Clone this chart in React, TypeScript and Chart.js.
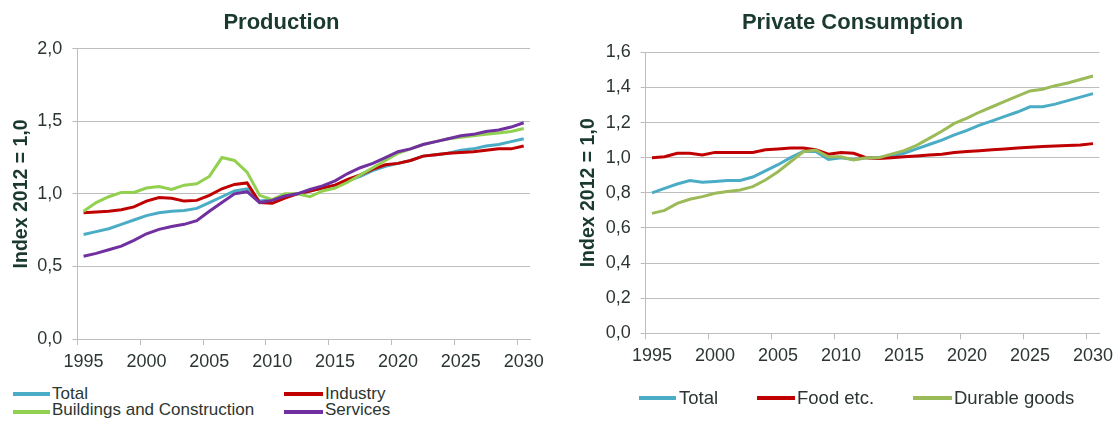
import React, { useEffect, useRef } from 'react';
import { Chart, registerables } from 'chart.js';

Chart.register(...registerables);

// ---------- data ----------
const years = [
  '1995', '1996', '1997', '1998', '1999', '2000', '2001', '2002', '2003', '2004',
  '2005', '2006', '2007', '2008', '2009', '2010', '2011', '2012', '2013', '2014',
  '2015', '2016', '2017', '2018', '2019', '2020', '2021', '2022', '2023', '2024',
  '2025', '2026', '2027', '2028', '2029', '2030',
];
const xTickYears = ['1995', '2000', '2005', '2010', '2015', '2020', '2025', '2030'];

// Production
const prodTotal = [
  0.72, 0.74, 0.76, 0.79, 0.82, 0.85, 0.87, 0.88, 0.885, 0.9,
  0.94, 0.98, 1.02, 1.035, 0.95, 0.96, 0.985, 1.0, 1.02, 1.04,
  1.06, 1.09, 1.12, 1.16, 1.19, 1.21, 1.23, 1.26, 1.27, 1.28,
  1.3, 1.31, 1.33, 1.34, 1.36, 1.38,
];
const prodIndustry = [
  0.87, 0.875, 0.88, 0.89, 0.91, 0.95, 0.975, 0.97, 0.95, 0.955,
  0.99, 1.035, 1.065, 1.075, 0.94, 0.935, 0.97, 1.0, 1.02, 1.04,
  1.06, 1.1, 1.13, 1.17, 1.2, 1.21, 1.23, 1.26, 1.27, 1.28,
  1.285, 1.29, 1.3, 1.31, 1.31, 1.33,
];
const prodBuildings = [
  0.88, 0.94, 0.98, 1.01, 1.01, 1.04, 1.05, 1.03, 1.06, 1.07,
  1.12, 1.25, 1.23, 1.15, 0.99, 0.96, 1.0, 1.0, 0.98, 1.02,
  1.04, 1.08, 1.13, 1.18, 1.23, 1.28, 1.31, 1.34, 1.36, 1.38,
  1.39, 1.4, 1.41, 1.42, 1.43, 1.45,
];
const prodServices = [
  0.57, 0.59, 0.615, 0.64, 0.68, 0.725, 0.755, 0.775, 0.79, 0.815,
  0.88, 0.94, 1.0, 1.015, 0.94, 0.955, 0.985, 1.0, 1.03, 1.055,
  1.09, 1.14, 1.18, 1.21, 1.25, 1.29, 1.31, 1.34, 1.36, 1.38,
  1.4, 1.41, 1.43, 1.44, 1.46, 1.49,
];

// Private consumption
const consTotal = [
  0.8, 0.825, 0.85, 0.87, 0.86, 0.865, 0.87, 0.87, 0.89, 0.925,
  0.96, 1.0, 1.035, 1.035, 0.99, 1.0, 0.99, 1.0, 1.0, 1.01,
  1.025, 1.05, 1.075, 1.1, 1.13, 1.155, 1.185, 1.21, 1.235, 1.26,
  1.29, 1.29, 1.305, 1.325, 1.345, 1.365,
];
const consFood = [
  1.0, 1.005, 1.025, 1.025, 1.015, 1.03, 1.03, 1.03, 1.03, 1.045,
  1.05, 1.055, 1.055, 1.045, 1.02, 1.03, 1.025, 1.0, 0.995, 1.0,
  1.005, 1.01, 1.015, 1.02, 1.03, 1.035, 1.04, 1.045, 1.05, 1.055,
  1.06, 1.063, 1.066, 1.07, 1.072, 1.08,
];
const consDurable = [
  0.683, 0.7, 0.74, 0.763, 0.778, 0.797, 0.807, 0.816, 0.835, 0.873,
  0.92, 0.977, 1.034, 1.044, 1.005, 1.005, 0.987, 1.0, 1.0, 1.02,
  1.04, 1.07, 1.11, 1.15, 1.195, 1.225, 1.26, 1.29, 1.32, 1.35,
  1.38, 1.39, 1.41, 1.425, 1.445, 1.465,
];

const prodSeriesNames = ['Total', 'Industry', 'Buildings and Construction', 'Services'];
const consSeriesNames = ['Total', 'Food etc.', 'Durable goods'];

// ---------- styling ----------
const FONT = "'Liberation Sans', Arial, sans-serif";
const TEXT = '#2c3631';
const TITLE = '#1b3a2f';
const GRID = '#bdbdbd';
const BLUE = '#4bacc6';
const RED = '#c00000';
const GREEN = '#92d050';
const PURPLE = '#7030a0';
const OLIVE = '#9bbb59';

type Geo = {
  title: string;
  yMax: number;
  yStep: number;
  yAxisW: number;
  rightW: number;
  xAxisH: number;
  titlePadBottom: number;
  yTitlePad: number;
};

function fmt(v: number) {
  return Number(v).toFixed(1).replace('.', ',');
}

function makeOptions(g: Geo): any {
  return {
    responsive: false,
    animation: false,
    devicePixelRatio: 1,
    layout: { padding: 0 },
    plugins: {
      legend: { display: false },
      tooltip: { enabled: false },
      title: {
        display: true,
        text: g.title,
        color: TITLE,
        font: { family: FONT, size: 22, weight: 'bold' },
        padding: { top: 10, bottom: g.titlePadBottom },
      },
    },
    scales: {
      x: {
        type: 'category',
        offset: true,
        grid: {
          display: true,
          drawOnChartArea: false,
          drawTicks: true,
          tickLength: 6,
          offset: true,
          color: GRID,
          tickColor: (ctx: any) =>
            ctx.index !== undefined && xTickYears.includes(years[ctx.index]) ? GRID : 'rgba(0,0,0,0)',
        },
        border: { display: true, color: GRID, width: 1 },
        ticks: {
          autoSkip: false,
          maxRotation: 0,
          minRotation: 0,
          padding: 6,
          color: TEXT,
          font: { family: FONT, size: 18 },
          callback: (_v: any, i: number) => (xTickYears.includes(years[i]) ? years[i] : ''),
        },
        afterFit: (s: any) => {
          s.height = g.xAxisH;
        },
      },
      y: {
        type: 'linear',
        min: 0,
        max: g.yMax,
        grid: { color: GRID, lineWidth: 1, tickLength: 5, drawTicks: true },
        border: { display: true, color: GRID, width: 1 },
        ticks: {
          stepSize: g.yStep,
          padding: 10,
          color: TEXT,
          font: { family: FONT, size: 18 },
          callback: (v: any) => fmt(v),
        },
        title: {
          display: true,
          text: 'Index 2012 = 1,0',
          color: TITLE,
          font: { family: FONT, size: 19.5, weight: 'bold' },
          padding: { top: g.yTitlePad, bottom: 0 },
        },
        afterFit: (s: any) => {
          s.width = g.yAxisW;
        },
      },
      y2: {
        type: 'linear',
        position: 'right',
        display: true,
        grid: { display: false },
        border: { display: false },
        ticks: { display: false },
        afterFit: (s: any) => {
          s.width = g.rightW;
        },
      },
    },
  };
}

function line(label: string, data: number[], color: string, order: number) {
  return {
    label,
    data,
    borderColor: color,
    backgroundColor: color,
    borderWidth: 3,
    pointRadius: 0,
    pointHoverRadius: 0,
    tension: 0,
    fill: false,
    order,
    yAxisID: 'y',
  };
}

function ChartCanvas({ config, left, width, height }: { config: any; left: number; width: number; height: number }) {
  const ref = useRef<HTMLCanvasElement | null>(null);
  useEffect(() => {
    if (!ref.current) return;
    const chart = new Chart(ref.current, config);
    return () => chart.destroy();
  }, []);
  return (
    <canvas
      ref={ref}
      width={width}
      height={height}
      style={{ position: 'absolute', left, top: 0, width, height }}
    />
  );
}

type LegendPos = { lx: number; lw: number; ly: number; tx: number; ty: number };

function Legend({ names, colors, pos, fontSize }: { names: string[]; colors: string[]; pos: LegendPos[]; fontSize: number }) {
  return (
    <>
      {names.map((n, i) => (
        <React.Fragment key={n}>
          <div
            style={{
              position: 'absolute',
              left: pos[i].lx,
              top: pos[i].ly - 2,
              width: pos[i].lw,
              height: 4,
              background: colors[i],
            }}
          />
          <div
            style={{
              position: 'absolute',
              left: pos[i].tx,
              top: pos[i].ty - 10,
              height: 20,
              lineHeight: '20px',
              fontSize,
              fontFamily: FONT,
              color: TEXT,
              whiteSpace: 'nowrap',
            }}
          >
            {n}
          </div>
        </React.Fragment>
      ))}
    </>
  );
}

const leftLegendPos: LegendPos[] = [
  { lx: 13, lw: 37, ly: 393.5, tx: 52, ty: 394 },
  { lx: 284, lw: 39, ly: 393.5, tx: 325, ty: 394 },
  { lx: 13, lw: 37, ly: 411.5, tx: 52, ty: 410 },
  { lx: 284, lw: 39, ly: 411.5, tx: 325, ty: 410 },
];
const rightLegendPos: LegendPos[] = [
  { lx: 639, lw: 37, ly: 398, tx: 679, ty: 398 },
  { lx: 757, lw: 38, ly: 398, tx: 797, ty: 398 },
  { lx: 913, lw: 39, ly: 398, tx: 954, ty: 398 },
];

export default function App() {
  const prodConfig = {
    type: 'line',
    data: {
      labels: years,
      datasets: [
        line(prodSeriesNames[0], prodTotal, BLUE, 3),
        line(prodSeriesNames[1], prodIndustry, RED, 2),
        line(prodSeriesNames[2], prodBuildings, GREEN, 1),
        line(prodSeriesNames[3], prodServices, PURPLE, 0),
      ],
    },
    options: makeOptions({
      title: 'Production',
      yMax: 2,
      yStep: 0.5,
      yAxisW: 77.3,
      rightW: 33,
      xAxisH: 41,
      titlePadBottom: 12.3,
      yTitlePad: 10.3,
    }),
  };
  const consConfig = {
    type: 'line',
    data: {
      labels: years,
      datasets: [
        line(consSeriesNames[0], consTotal, BLUE, 2),
        line(consSeriesNames[1], consFood, RED, 1),
        line(consSeriesNames[2], consDurable, OLIVE, 0),
      ],
    },
    options: makeOptions({
      title: 'Private Consumption',
      yMax: 1.6,
      yStep: 0.2,
      yAxisW: 85.7,
      rightW: 45.7,
      xAxisH: 46.7,
      titlePadBottom: 15.9,
      yTitlePad: 17.3,
    }),
  };

  return (
    <div
      style={{
        position: 'absolute',
        left: 0,
        top: 0,
        width: 1115,
        height: 421,
        overflow: 'hidden',
        background: '#ffffff',
      }}
    >
      <ChartCanvas config={prodConfig} left={0} width={563} height={380} />
      <ChartCanvas config={consConfig} left={560} width={585} height={380} />
      <Legend names={prodSeriesNames} colors={[BLUE, RED, GREEN, PURPLE]} pos={leftLegendPos} fontSize={17} />
      <Legend names={consSeriesNames} colors={[BLUE, RED, OLIVE]} pos={rightLegendPos} fontSize={18.5} />
    </div>
  );
}
